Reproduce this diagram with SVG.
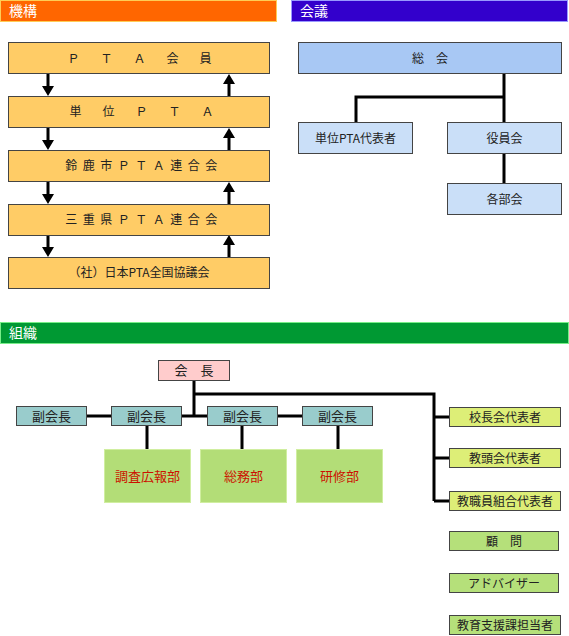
<svg xmlns="http://www.w3.org/2000/svg" width="569" height="636" viewBox="0 0 569 636">
<style>
text{font-family:"Noto Sans CJK JP","Noto Sans",sans-serif;font-size:12px;fill:#222;text-anchor:middle}
.hd{fill:#fff;font-size:14px;text-anchor:start}
.box{stroke:#444;stroke-width:1}
.org{fill:#FFCC66}
.blue1{fill:#A8C8F4}
.blue2{fill:#CADFF8}
.pink{fill:#FFCCCC}
.teal{fill:#99CCCC}
.yg{fill:#DDEE77}
.gr{fill:#B5E07A}
.dept{fill:#B3DD77;stroke:#D0EEA0;stroke-width:1}
.red{fill:#CC1100;font-size:13px}
.ln{stroke:#000;stroke-width:3;fill:none}
.arr{fill:#000}
</style>
<defs>
<path id="down" d="M-1.5,0 H1.5 V12 H6 L0,22 L-6,12 H-1.5 Z"/>
<path id="up" d="M-1.5,22 H1.5 V10 H6 L0,0 L-6,10 H-1.5 Z"/>
</defs>
<g id="headers">
<rect x="0.5" y="0.5" width="276" height="21" fill="#FF6600" stroke="#FFCC55"/>
<text class="hd" x="9" y="16">機構</text>
<rect x="291.5" y="0.5" width="276" height="21" fill="#3300CC" stroke="#9999FF"/>
<text class="hd" x="300" y="16">会議</text>
<rect x="0.5" y="322.5" width="568" height="21" fill="#009933" stroke="#77EE88"/>
<text class="hd" x="9" y="338">組織</text>
</g>
<g id="connectors">
<use href="#down" class="arr" x="48" y="74"/>
<use href="#down" class="arr" x="48" y="128"/>
<use href="#down" class="arr" x="48" y="182"/>
<use href="#down" class="arr" x="48" y="235"/>
<use href="#up" class="arr" x="229" y="74"/>
<use href="#up" class="arr" x="229" y="128"/>
<use href="#up" class="arr" x="229" y="182"/>
<use href="#up" class="arr" x="229" y="235"/>
<path class="ln" d="M504,74 V122 M504,97 H356 V122 M504,153 V183"/>
<path class="ln" d="M194,381 V416 M194,394 H434 V501 M434,417 H449 M434,458 H449 M434,501 H449"/>
<path class="ln" d="M87,416 H111 M182,416 H207 M278,416 H302 M147,426 V449 M242,426 V449 M338,426 V449"/>
</g>
<g id="pta-member"><rect class="box org" x="8.5" y="42.5" width="261" height="31"/><text x="150" y="62.5" style="letter-spacing:21px">ＰＴＡ会員</text></g>
<g id="unit-pta"><rect class="box org" x="8.5" y="96.5" width="261" height="31"/><text x="152" y="116" style="letter-spacing:21px">単位ＰＴＡ</text></g>
<g id="suzuka"><rect class="box org" x="8.5" y="150.5" width="261" height="31"/><text x="144" y="170" style="letter-spacing:5.5px">鈴鹿市ＰＴＡ連合会</text></g>
<g id="mie"><rect class="box org" x="8.5" y="204.5" width="261" height="31"/><text x="144" y="224" style="letter-spacing:5.5px">三重県ＰＴＡ連合会</text></g>
<g id="japan"><rect class="box org" x="8.5" y="257.5" width="261" height="31"/><text x="139" y="277">（社）日本PTA全国協議会</text></g>
<g id="soukai"><rect class="box blue1" x="298.5" y="42.5" width="263" height="31"/><text x="430" y="62.5">総　会</text></g>
<g id="unit-rep"><rect class="box blue2" x="298.5" y="122.5" width="114" height="31"/><text x="355.5" y="142.5">単位PTA代表者</text></g>
<g id="yakuin"><rect class="box blue2" x="447.5" y="122.5" width="114" height="31"/><text x="504.5" y="142.5">役員会</text></g>
<g id="kakubu"><rect class="box blue2" x="447.5" y="183.5" width="114" height="31"/><text x="504.5" y="203.5">各部会</text></g>
<g id="kaicho"><rect class="box pink" x="158.5" y="360.5" width="71" height="20"/><text x="194" y="375" style="font-size:13px">会　長</text></g>
<g id="fuku1"><rect class="box teal" x="16.5" y="406.5" width="70" height="19"/><text x="51.5" y="420.5" style="font-size:13px">副会長</text></g>
<g id="fuku2"><rect class="box teal" x="111.5" y="406.5" width="70" height="19"/><text x="146.5" y="420.5" style="font-size:13px">副会長</text></g>
<g id="fuku3"><rect class="box teal" x="207.5" y="406.5" width="70" height="19"/><text x="242.5" y="420.5" style="font-size:13px">副会長</text></g>
<g id="fuku4"><rect class="box teal" x="302.5" y="406.5" width="70" height="19"/><text x="337.5" y="420.5" style="font-size:13px">副会長</text></g>
<g id="chousa"><rect class="dept" x="104.5" y="449.5" width="86" height="53"/><text class="red" x="147.5" y="480.5">調査広報部</text></g>
<g id="soumu"><rect class="dept" x="200.5" y="449.5" width="86" height="53"/><text class="red" x="243.5" y="480.5">総務部</text></g>
<g id="kenshu"><rect class="dept" x="296.5" y="449.5" width="86" height="53"/><text class="red" x="339.5" y="480.5">研修部</text></g>
<g id="kouchou"><rect class="box yg" x="449.5" y="407.5" width="111" height="19"/><text x="505" y="421.5">校長会代表者</text></g>
<g id="kyoutou"><rect class="box yg" x="449.5" y="448.5" width="111" height="19"/><text x="505" y="462.5">教頭会代表者</text></g>
<g id="kumiai"><rect class="box yg" x="449.5" y="491.5" width="111" height="19"/><text x="505" y="505.5">教職員組合代表者</text></g>
<g id="komon"><rect class="box gr" x="449.5" y="531.5" width="109" height="19"/><text x="504" y="545.5">顧　問</text></g>
<g id="advisor"><rect class="box gr" x="449.5" y="573.5" width="109" height="19"/><text x="504" y="587.5">アドバイザー</text></g>
<g id="shien"><rect class="box gr" x="449.5" y="615.5" width="111" height="19"/><text x="505" y="629.5">教育支援課担当者</text></g>
</svg>
